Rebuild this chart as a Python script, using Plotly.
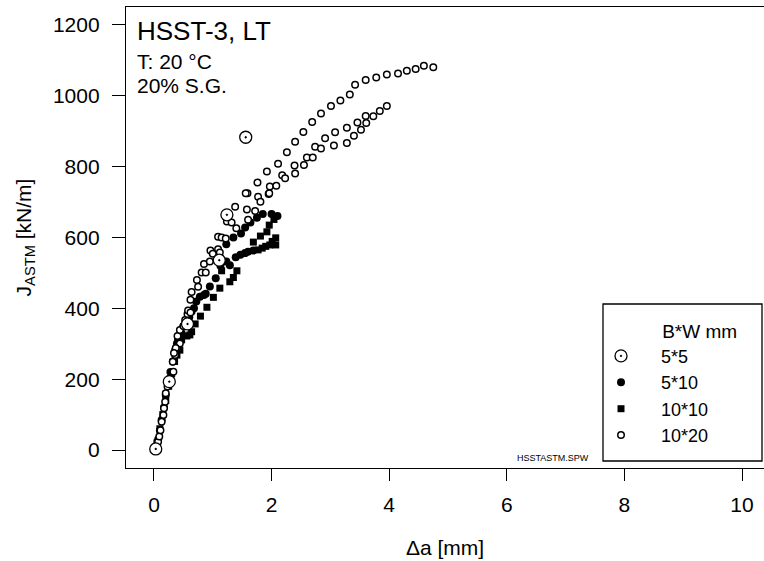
import plotly.graph_objects as go

FONT = "Liberation Sans, Arial, sans-serif"

# ---- data (Δa [mm], J_ASTM [kN/m]) ----
s5x5_da = [0.03, 0.26, 0.57, 1.11, 1.24, 1.56]
s5x5_j = [3, 193, 356, 536, 664, 883]

s5x10_da = [0.02, 0.04, 0.07, 0.10, 0.13, 0.17, 0.20, 0.24, 0.28, 0.32, 0.36, 0.39, 0.41,
            0.47, 0.50, 0.55, 0.60, 0.64, 0.68, 0.72, 0.78, 0.85, 0.88, 0.95, 1.05, 1.13,
            1.23, 1.35, 1.48, 1.55, 1.64, 1.75, 1.85, 2.00, 2.10,
            1.23, 1.29, 1.39, 1.47, 1.55, 1.60, 1.69]
s5x10_j = [2, 10, 30, 55, 85, 120, 155, 190, 220, 250, 282, 301, 312,
           329, 348, 362, 375, 391, 400, 419, 433, 438, 441, 462, 485, 520,
           581, 600, 611, 628, 642, 656, 666, 666, 661,
           532, 522, 544, 551, 556, 560, 563]

s10x10_da = [0.02, 0.05, 0.10, 0.15, 0.20, 0.25, 0.30, 0.35, 0.39, 0.44, 0.47, 0.56, 0.61,
             0.64, 0.70, 0.79, 0.90, 1.01, 1.12, 1.15, 1.29, 1.35, 1.41,
             1.77, 1.84, 1.90, 1.97, 2.07,
             1.69, 1.81, 1.92, 1.96, 2.04, 2.01, 2.07]
s10x10_j = [5, 20, 60, 100, 140, 180, 215, 250, 268, 282, 311, 322, 325,
            334, 356, 378, 403, 431, 457, 506, 475, 487, 506,
            565, 570, 575, 579, 579,
            587, 604, 616, 635, 651, 589, 599]

s10x20_da = [0.05, 0.07, 0.09, 0.11, 0.13, 0.16, 0.17, 0.19, 0.20, 0.23, 0.27, 0.33, 0.32,
             0.36, 0.39, 0.44, 0.37, 0.34, 0.40, 0.44, 0.50, 0.53, 0.57, 0.58, 0.62, 0.62,
             0.64, 0.75, 0.73, 0.81, 0.88, 0.85, 0.95, 0.96, 1.00, 1.09, 1.12, 1.09, 1.15,
             1.22, 1.24, 1.32, 1.40, 1.38, 1.58, 1.60,
             1.59, 1.76, 1.92, 2.11, 2.26, 2.40, 2.54, 2.69, 2.84, 3.01, 3.17, 3.33, 3.42,
             3.60, 3.78, 3.96, 4.15, 4.30, 4.45, 4.59, 4.75,
             1.56, 1.72, 1.77, 1.81, 1.95, 1.96, 1.97, 2.08, 2.18, 2.23, 2.39, 2.40, 2.55,
             2.60, 2.70, 2.74, 2.84, 2.91, 3.06, 3.08, 3.28, 3.28, 3.40, 3.46, 3.52, 3.61,
             3.60, 3.73, 3.84, 3.96]
s10x20_j = [9, 23, 38, 56, 80, 99, 118, 136, 160, 179, 202, 221, 249,
            268, 287, 301, 288, 274, 322, 339, 350, 367, 384, 394, 388, 424,
            446, 461, 480, 501, 501, 525, 532, 563, 554, 567, 558, 602, 600,
            597, 645, 642, 626, 687, 679, 650,
            725, 755, 786, 808, 841, 870, 898, 926, 950, 971, 987, 1004, 1031,
            1045, 1052, 1060, 1063, 1071, 1076, 1085, 1081,
            725, 675, 715, 701, 723, 725, 744, 746, 776, 767, 803, 781, 805,
            826, 826, 856, 851, 880, 860, 897, 867, 910, 887, 925, 904, 923,
            943, 942, 957, 971]

x_ticks = [0, 2, 4, 6, 8, 10]
y_ticks = [0, 200, 400, 600, 800, 1000, 1200]

fig = go.Figure()

fig.add_trace(go.Scatter(
    x=s10x10_da, y=s10x10_j, mode="markers", name="10*10", legendrank=3,
    marker=dict(symbol="square", size=7, color="black", line=dict(width=0))))
fig.add_trace(go.Scatter(
    x=s5x10_da, y=s5x10_j, mode="markers", name="5*10", legendrank=2,
    marker=dict(symbol="circle", size=8, color="black", line=dict(width=0))))
fig.add_trace(go.Scatter(
    x=s10x20_da, y=s10x20_j, mode="markers", name="10*20", legendrank=4,
    marker=dict(symbol="circle", size=6.5, color="white", line=dict(width=1.5, color="black"))))
fig.add_trace(go.Scatter(
    x=s5x5_da, y=s5x5_j, mode="markers", name="5*5", legendrank=1,
    marker=dict(symbol="circle-dot", size=12, color="white", line=dict(width=1.3, color="black"))))

NB = "\u00a0"

fig.update_layout(
    width=764, height=561, autosize=False,
    margin=dict(l=126, r=0, t=7, b=93),
    paper_bgcolor="white", plot_bgcolor="white",
    font=dict(family=FONT, size=21, color="black"),
    showlegend=True,
    legend=dict(
        x=(581 - 126) / 638, y=(468 - 454) / 461, xanchor="left", yanchor="bottom",
        bgcolor="rgba(0,0,0,0)", borderwidth=0,
        font=dict(family=FONT, size=18, color="black"),
        title=dict(text=NB * 15 + "B*W mm", font=dict(family=FONT, size=19)),
        itemwidth=70, tracegroupgap=0,
    ),
    xaxis=dict(
        range=[-0.476, 10.374], tickvals=x_ticks, ticktext=[str(v) for v in x_ticks],
        ticks="outside", ticklen=12, tickwidth=1.2, tickcolor="black",
        showline=True, mirror=True, linecolor="black", linewidth=1.3,
        showgrid=False, zeroline=False,
        tickfont=dict(family=FONT, size=21),
        ticklabelstandoff=6,
        title=dict(text="\u0394a [mm]", font=dict(family=FONT, size=21), standoff=24),
    ),
    yaxis=dict(
        range=[-50.8, 1250.8], tickvals=y_ticks, ticktext=[str(v) for v in y_ticks],
        ticks="outside", ticklen=13, tickwidth=1.2, tickcolor="black",
        showline=True, mirror=False, linecolor="black", linewidth=1.3,
        showgrid=False, zeroline=False,
        tickfont=dict(family=FONT, size=21),
        ticklabelstandoff=8,
        title=dict(text="J<sub>ASTM</sub> [kN/m]", font=dict(family=FONT, size=21), standoff=15),
    ),
    shapes=[dict(type="rect", xref="paper", yref="paper",
                 x0=(603 - 126) / 638, x1=(762 - 126) / 638,
                 y0=(468 - 461) / 461, y1=(468 - 304) / 461,
                 line=dict(color="black", width=1.3), fillcolor="rgba(0,0,0,0)")],
    annotations=[
        dict(text="HSST-3, LT", xref="paper", yref="paper", x=(135 - 126) / 638, y=(468 - 31) / 461,
             xanchor="left", yanchor="middle", showarrow=False, font=dict(family=FONT, size=26)),
        dict(text="T: 20 \u00b0C", xref="paper", yref="paper", x=(135 - 126) / 638, y=(468 - 61) / 461,
             xanchor="left", yanchor="middle", showarrow=False, font=dict(family=FONT, size=21)),
        dict(text="20% S.G.", xref="paper", yref="paper", x=(135 - 126) / 638, y=(468 - 85) / 461,
             xanchor="left", yanchor="middle", showarrow=False, font=dict(family=FONT, size=21)),
        dict(text="HSSTASTM.SPW", xref="paper", yref="paper", x=(553 - 126) / 638, y=(468 - 458) / 461,
             xanchor="center", yanchor="middle", showarrow=False, font=dict(family=FONT, size=9)),
    ],
)

fig.write_html("out.html")
